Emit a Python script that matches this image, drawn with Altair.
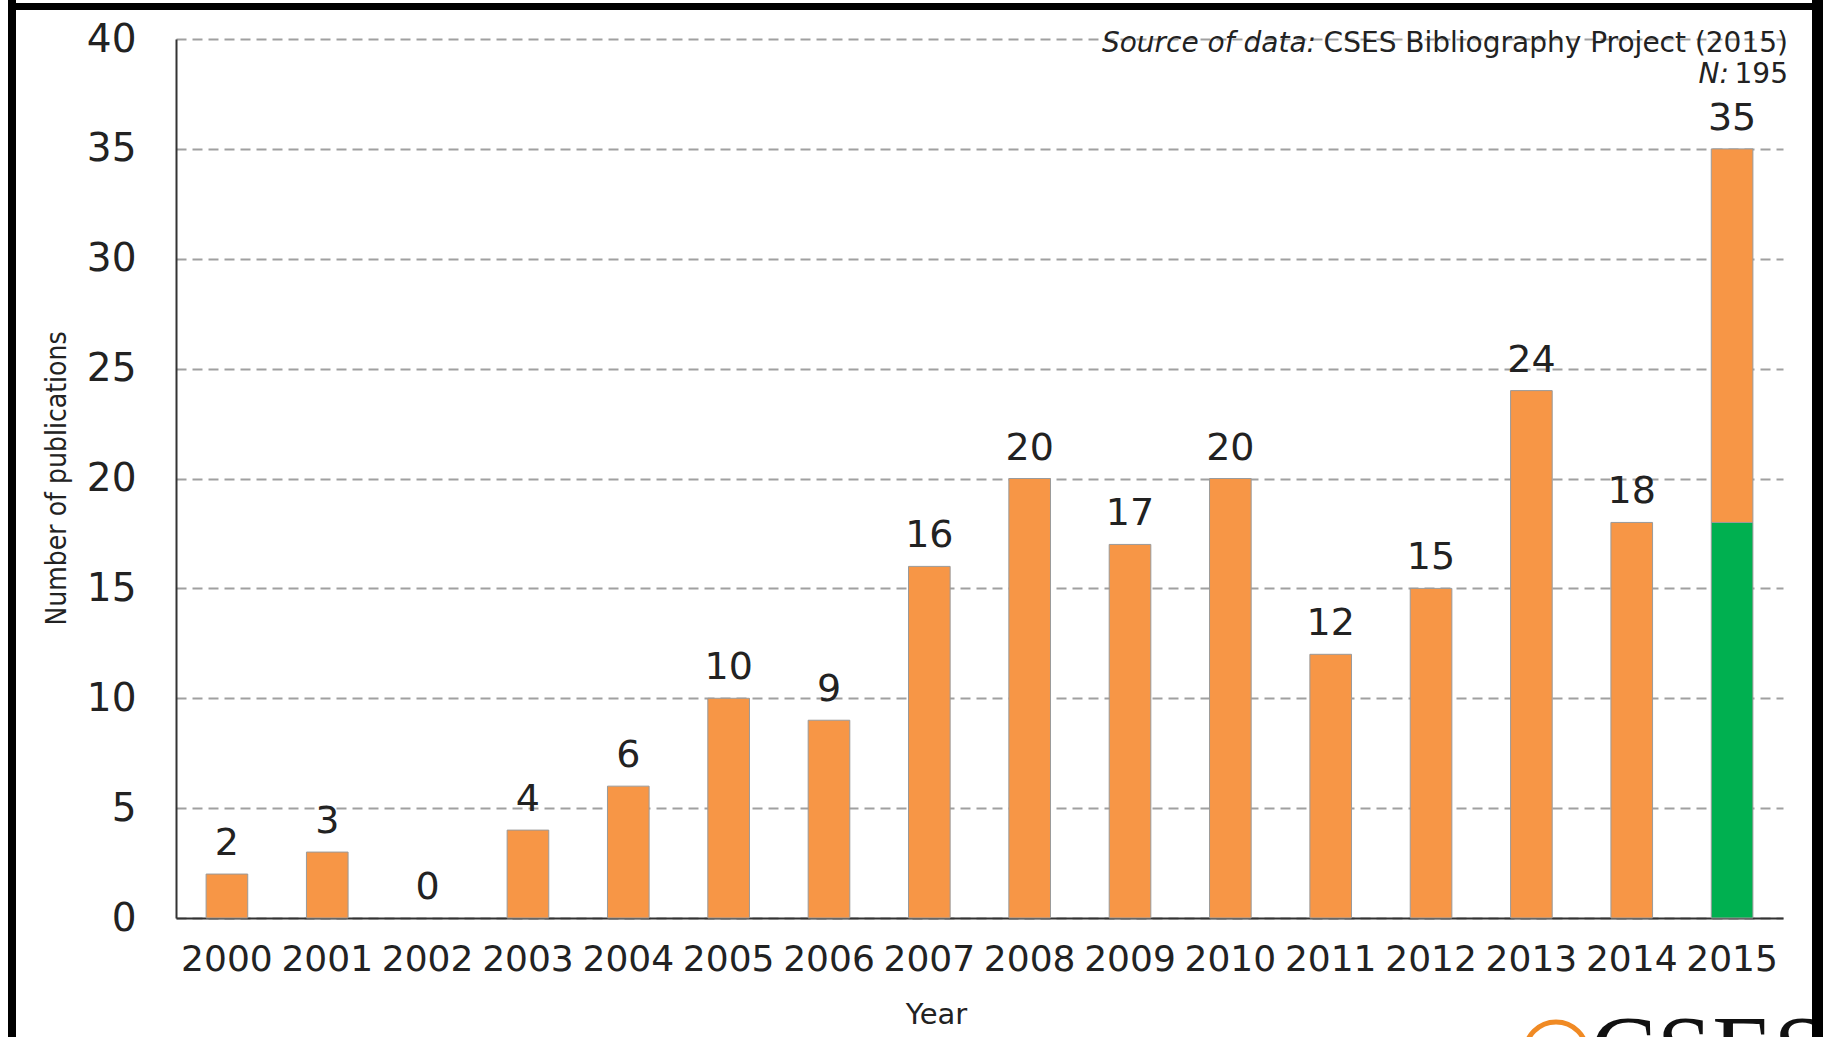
import altair as alt
import pandas as pd

# ---- data ----
years = ["2000", "2001", "2002", "2003", "2004", "2005", "2006", "2007",
         "2008", "2009", "2010", "2011", "2012", "2013", "2014", "2015"]
orange_counts = [2, 3, 0, 4, 6, 10, 9, 16, 20, 17, 20, 12, 15, 24, 18, 17]
green_counts = [0, 0, 0, 0, 0, 0, 0, 0, 0, 0, 0, 0, 0, 0, 0, 18]
totals = [2, 3, 0, 4, 6, 10, 9, 16, 20, 17, 20, 12, 15, 24, 18, 35]

ORANGE = "#F79646"
GREEN = "#00B050"
FONT = "DejaVu Sans"

rows = []
for y, g, o in zip(years, green_counts, orange_counts):
    if g > 0:
        rows.append({"year": y, "series": "green", "count": g, "ord": 0})
    if o > 0:
        rows.append({"year": y, "series": "orange", "count": o, "ord": 1})
bars_df = pd.DataFrame(rows)
labels_df = pd.DataFrame({"year": years, "total": totals})
one = pd.DataFrame({"a": [0]})

x_enc = alt.X(
    "year:N",
    scale=alt.Scale(domain=years, paddingInner=0.585, paddingOuter=0.3),
    axis=alt.Axis(
        title="Year", labelAngle=0, ticks=False, labelPadding=24,
        labelFontSize=36, labelFont=FONT, labelColor="#222222",
        domainColor="#333333", domainWidth=2, grid=False,
        titleFontSize=29, titleFont=FONT, titleFontWeight="normal",
        titleColor="#222222", titleX=760, titleY=105,
        titleBaseline="alphabetic", titleAlign="center",
    ),
)

bars = alt.Chart(bars_df).mark_bar(stroke="#9a9a9a", strokeWidth=1).encode(
    x=x_enc,
    y=alt.Y(
        "count:Q", stack="zero",
        scale=alt.Scale(domain=[0, 40], nice=False),
        axis=alt.Axis(
            title="Number of publications", values=list(range(0, 41, 5)),
            ticks=False, labelPadding=40, labelFontSize=39, labelFont=FONT,
            labelColor="#222222", domainColor="#333333", domainWidth=2,
            gridColor="#a0a0a0", gridWidth=2, gridDash=[10, 6],
            titleFontSize=28, titleFont="DejaVu Sans Condensed, DejaVu Sans",
            titleFontWeight="normal", titleColor="#222222",
            titleX=-111, titleY=439, titleBaseline="alphabetic",
            titleAlign="center", titleAngle=270,
        ),
    ),
    color=alt.Color("series:N",
                    scale=alt.Scale(domain=["green", "orange"], range=[GREEN, ORANGE]),
                    legend=None),
    order=alt.Order("ord:Q"),
)

labels = alt.Chart(labels_df).mark_text(
    baseline="alphabetic", dy=-19, fontSize=38, font=FONT, color="#222222"
).encode(
    x=alt.X("year:N", scale=alt.Scale(domain=years)),
    y=alt.Y("total:Q"),
    text=alt.Text("total:Q"),
)

src_norm = alt.Chart(one).mark_text(
    align="right", baseline="alphabetic", fontSize=28, font=FONT, color="#222222"
).encode(x=alt.value(1612), y=alt.value(13), text=alt.value("CSES Bibliography Project (2015)"))
src_ital = alt.Chart(one).mark_text(
    align="right", baseline="alphabetic", fontSize=28, font=FONT, fontStyle="italic", color="#222222"
).encode(x=alt.value(1140), y=alt.value(13), text=alt.value("Source of data:"))
n_norm = alt.Chart(one).mark_text(
    align="right", baseline="alphabetic", fontSize=28, font=FONT, color="#222222"
).encode(x=alt.value(1612), y=alt.value(44), text=alt.value("195"))
n_ital = alt.Chart(one).mark_text(
    align="right", baseline="alphabetic", fontSize=28, font=FONT, fontStyle="italic", color="#222222"
).encode(x=alt.value(1553), y=alt.value(44), text=alt.value("N:"))

logo_ring = alt.Chart(one).mark_point(
    shape="circle", filled=False, stroke="#F08A24", strokeWidth=5, size=3844, opacity=1
).encode(x=alt.value(1380), y=alt.value(1014))
logo_text = alt.Chart(one).mark_text(
    align="left", baseline="alphabetic", fontSize=100, font="Liberation Serif", color="#111111"
).encode(x=alt.value(1414), y=alt.value(1045), text=alt.value("CSES"))

left_border = alt.Chart(one).mark_rule(color="black", strokeWidth=8).encode(
    x=alt.value(-164), y=alt.value(-40), y2=alt.value(1010))
top_border = alt.Chart(one).mark_rule(color="black", strokeWidth=7).encode(
    y=alt.value(-32.5), x=alt.value(-168), x2=alt.value(1650))
right_border = alt.Chart(one).mark_rule(color="black", strokeWidth=12).encode(
    x=alt.value(1642), y=alt.value(-40), y2=alt.value(1010))

chart = alt.layer(
    bars, labels, src_norm, src_ital, n_norm, n_ital,
    logo_ring, logo_text, left_border, top_border, right_border,
).properties(
    width=1607, height=879,
    autosize=alt.AutoSizeParams(type="none"),
    padding={"left": 176, "top": 39, "right": 40, "bottom": 119},
    background="white",
).configure_view(stroke=None)

chart.save("out.html", embed_options={"renderer": "svg", "actions": False})
